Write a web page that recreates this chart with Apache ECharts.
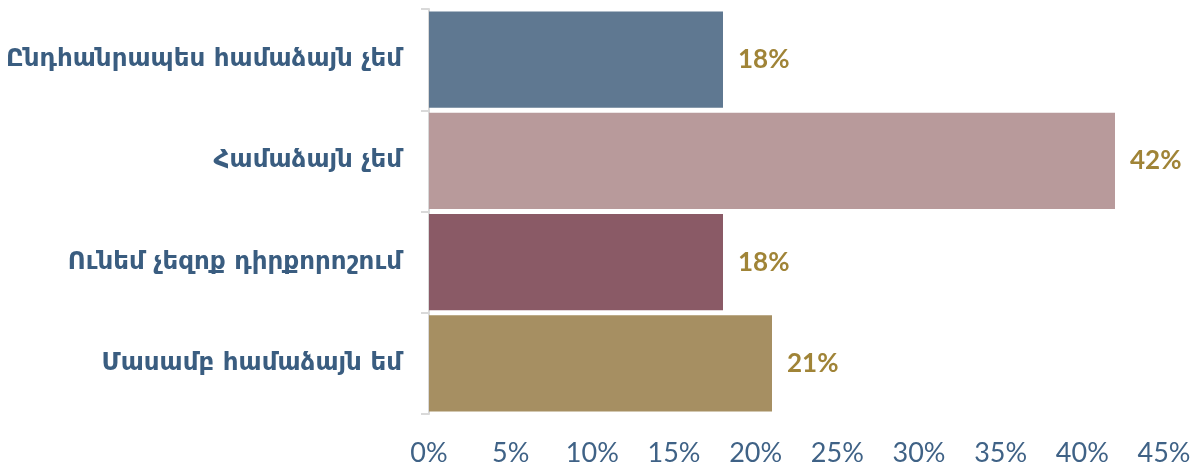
<!DOCTYPE html>
<html>
<head>
<meta charset="utf-8">
<script src="https://cdn.jsdelivr.net/npm/echarts@6/dist/echarts.min.js"></script>
<style>
  html, body { margin: 0; padding: 0; background: #ffffff; }
  #chart { width: 1199px; height: 467px; }
</style>
</head>
<body>
<div id="chart"></div>
<script>
// Survey answers and their shares, in percent
const categories = [
  'Ընդհանրապես համաձայն չեմ',
  'Համաձայն չեմ',
  'Ունեմ չեզոք դիրքորոշում',
  'Մասամբ համաձայն եմ'
];
const shares = [18, 42, 18, 21];
const barColors = ['#5f7891', '#b89a9b', '#8a5a66', '#a68f62'];
const axisTicks = [0, 5, 10, 15, 20, 25, 30, 35, 40, 45];

const chart = echarts.init(document.getElementById('chart'), null, { renderer: 'canvas' });

chart.setOption({
  animation: false,
  backgroundColor: '#ffffff',
  grid: { left: 429, right: 35, top: 9, bottom: 53, containLabel: false },
  xAxis: {
    type: 'value',
    min: axisTicks[0],
    max: axisTicks[axisTicks.length - 1],
    interval: axisTicks[1] - axisTicks[0],
    splitLine: { show: false },
    axisLine: { show: false },
    axisTick: { show: false },
    axisLabel: {
      formatter: '{value}%',
      color: '#3f6286',
      fontFamily: 'Lato',
      fontSize: 27,
      margin: 26
    }
  },
  yAxis: {
    type: 'category',
    inverse: true,
    data: categories,
    axisLine: { show: true, lineStyle: { color: '#d9d9d9', width: 2 } },
    axisTick: { show: true, length: 8, lineStyle: { color: '#d9d9d9', width: 2 } },
    axisLabel: {
      color: '#3a5d80',
      fontFamily: '"DejaVu Sans", sans-serif',
      fontWeight: 'bold',
      fontSize: 24.6,
      margin: 27
    }
  },
  series: [{
    type: 'bar',
    data: shares.map((v, i) => ({ value: v, itemStyle: { color: barColors[i] } })),
    barCategoryGap: '5%',
    label: {
      show: true,
      position: 'right',
      distance: 15,
      formatter: '{c}%',
      color: '#a08437',
      fontFamily: 'Lato',
      fontWeight: 'bold',
      fontSize: 26
    }
  }]
});
</script>
</body>
</html>
